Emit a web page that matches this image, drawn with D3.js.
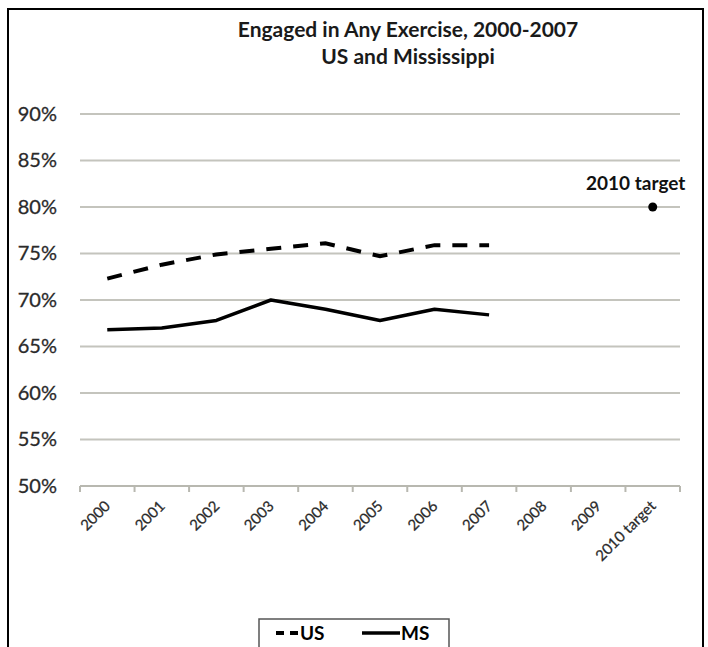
<!DOCTYPE html>
<html>
<head>
<meta charset="utf-8">
<script src="https://cdn.jsdelivr.net/npm/d3@7/dist/d3.min.js"></script>
<style>
  html, body { margin: 0; padding: 0; background: #fff; }
  svg { display: block; }
</style>
</head>
<body>
<svg id="chart" width="708" height="647"></svg>
<script>
// Categories along the x axis
const categories = ["2000", "2001", "2002", "2003", "2004", "2005", "2006", "2007", "2008", "2009", "2010 target"];
// Percent of adults engaged in any exercise
const usValues = [72.3, 73.8, 74.9, 75.5, 76.1, 74.7, 75.9, 75.9];
const msValues = [66.8, 67.0, 67.8, 70.0, 69.0, 67.8, 69.0, 68.4];
// Healthy People 2010 target
const targetCategory = "2010 target";
const targetValue = 80;
const yTicks = [50, 55, 60, 65, 70, 75, 80, 85, 90];
const titleLines = ["Engaged in Any Exercise, 2000-2007", "US and Mississippi"];

const FONT = "Lato, 'Open Sans', sans-serif";
const svg = d3.select("#chart");

// Outer frame
svg.append("rect")
  .attr("x", 8).attr("y", 9).attr("width", 695).attr("height", 660)
  .attr("fill", "none").attr("stroke", "#000").attr("stroke-width", 2);

const plot = { left: 80, right: 680, top: 114, bottom: 486 };

const x = d3.scaleBand().domain(categories).range([plot.left, plot.right]).padding(0);
const y = d3.scaleLinear().domain([50, 90]).range([plot.bottom, plot.top]);
const cx = d => x(d) + x.bandwidth() / 2;

// Title
svg.append("g").selectAll("text").data(titleLines).join("text")
  .attr("x", 408).attr("y", (d, i) => 37 + i * 27)
  .attr("text-anchor", "middle")
  .attr("font-family", FONT).attr("font-weight", "bold").attr("font-size", 21)
  .attr("fill", "#1a1a1a")
  .text(d => d);

// Horizontal gridlines
svg.append("g").selectAll("line").data(yTicks.filter(t => t !== 50)).join("line")
  .attr("x1", plot.left).attr("x2", plot.right)
  .attr("y1", d => y(d)).attr("y2", d => y(d))
  .attr("stroke", "#c4c4bd").attr("stroke-width", 2);

// Y axis labels
const yAxis = d3.axisLeft(y).tickValues(yTicks).tickSize(0).tickPadding(0)
  .tickFormat(d => d + "%");
const yg = svg.append("g").attr("transform", `translate(57,0)`).call(yAxis);
yg.select(".domain").remove();
yg.selectAll("text")
  .attr("font-family", FONT).attr("font-size", 20).attr("fill", "#2a2a2a")
  .attr("stroke", "#2a2a2a").attr("stroke-width", 0.3);

// X axis with band-boundary ticks
const xg = svg.append("g").attr("transform", `translate(0,${plot.bottom})`);
xg.append("line")
  .attr("x1", plot.left).attr("x2", plot.right)
  .attr("stroke", "#b8b8b0").attr("stroke-width", 2);
const boundaries = categories.map(c => x(c)).concat([plot.right]);
xg.selectAll("line.tick").data(boundaries).join("line").attr("class", "tick")
  .attr("x1", d => d).attr("x2", d => d).attr("y1", 0).attr("y2", 6)
  .attr("stroke", "#b8b8b0").attr("stroke-width", 2);
xg.selectAll("text").data(categories).join("text")
  .attr("transform", d => `translate(${cx(d) + 4},${21}) rotate(-45)`)
  .attr("text-anchor", "end")
  .attr("font-family", FONT).attr("font-size", 15).attr("fill", "#2a2a2a")
  .attr("stroke", "#2a2a2a").attr("stroke-width", 0.25)
  .text(d => d);

// Series lines
const line = d3.line().x((d, i) => cx(categories[i])).y(d => y(d));
svg.append("path").datum(usValues)
  .attr("d", line).attr("fill", "none").attr("stroke", "#000")
  .attr("stroke-width", 4).attr("stroke-dasharray", "15,12");
svg.append("path").datum(msValues)
  .attr("d", line).attr("fill", "none").attr("stroke", "#000")
  .attr("stroke-width", 3.5).attr("stroke-linejoin", "round");

// Target point
svg.append("circle")
  .attr("cx", cx(targetCategory)).attr("cy", y(targetValue)).attr("r", 4.5)
  .attr("fill", "#000");
svg.append("text")
  .attr("x", cx(targetCategory) - 17).attr("y", y(targetValue) - 17)
  .attr("text-anchor", "middle")
  .attr("font-family", FONT).attr("font-weight", "bold").attr("font-size", 19)
  .attr("fill", "#111")
  .text("2010 target");

// Legend
const lg = svg.append("g");
lg.append("rect").attr("x", 259).attr("y", 619).attr("width", 190).attr("height", 40)
  .attr("fill", "#fff").attr("stroke", "#555").attr("stroke-width", 1.5);
lg.append("line").attr("x1", 276).attr("x2", 298).attr("y1", 633).attr("y2", 633)
  .attr("stroke", "#000").attr("stroke-width", 4).attr("stroke-dasharray", "8,6");
lg.append("text").attr("x", 300).attr("y", 640)
  .attr("font-family", FONT).attr("font-weight", "bold").attr("font-size", 19)
  .text("US");
lg.append("line").attr("x1", 362).attr("x2", 400).attr("y1", 633).attr("y2", 633)
  .attr("stroke", "#000").attr("stroke-width", 3.5);
lg.append("text").attr("x", 401).attr("y", 640)
  .attr("font-family", FONT).attr("font-weight", "bold").attr("font-size", 19)
  .text("MS");
</script>
</body>
</html>
